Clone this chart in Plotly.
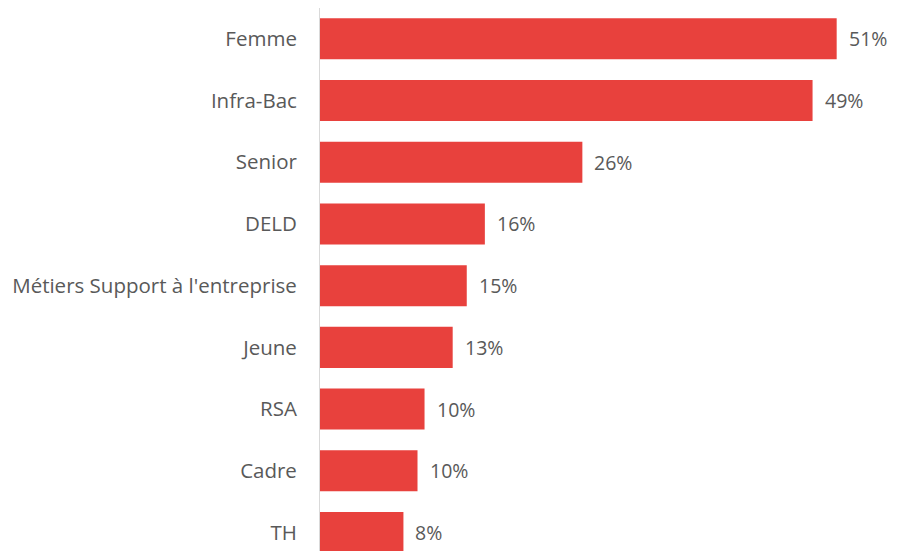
import plotly.graph_objects as go

categories = ["Femme", "Infra-Bac", "Senior", "DELD", "Métiers Support à l'entreprise",
              "Jeune", "RSA", "Cadre", "TH"]
values = [51.4, 49.0, 26.1, 16.4, 14.6, 13.2, 10.4, 9.7, 8.3]
labels = ["51%", "49%", "26%", "16%", "15%", "13%", "10%", "10%", "8%"]

BAR = "#E8413D"
TXT = "#595959"
FONT = "'Open Sans', Lato, sans-serif"

fig = go.Figure(go.Bar(
    x=values, y=categories, orientation="h",
    marker=dict(color=BAR, line=dict(width=0)),
    hoverinfo="skip",
))

for v, c, t in zip(values, categories, labels):
    fig.add_annotation(x=v, y=c, text=t, showarrow=False, xanchor="left",
                       xshift=11, borderpad=0,
                       font=dict(family=FONT, size=19.5, color=TXT))

fig.update_layout(
    width=890, height=543,
    margin=dict(l=312, r=0, t=0, b=0),
    paper_bgcolor="white", plot_bgcolor="white",
    bargap=0.335,
    showlegend=False,
    font=dict(family=FONT, size=20.5, color=TXT),
)
fig.update_xaxes(range=[0, 57.5], visible=False, fixedrange=True)
fig.update_yaxes(
    categoryorder="array", categoryarray=categories,
    range=[8.3, -0.5], autorange=False,
    showline=True, linecolor="#D9D9D9", linewidth=1,
    showgrid=False, ticks="", ticklabelstandoff=18,
    tickfont=dict(family=FONT, size=20.5, color=TXT),
)

fig.write_html("out.html")
